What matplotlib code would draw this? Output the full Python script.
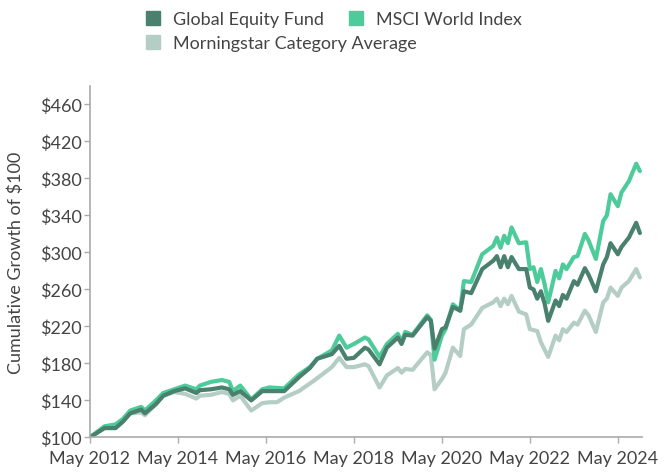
import matplotlib
matplotlib.use("Agg")
import matplotlib.pyplot as plt
from matplotlib.patches import Patch

fund_m = [0, 4, 7, 9, 11, 14, 15, 18, 20, 23, 26, 29, 30, 33, 36, 38, 39, 41, 44, 47, 49, 53,
          57, 60, 62, 66, 68, 70, 72, 75, 76, 79, 81, 84, 85, 86, 88, 92, 93, 94, 96, 97, 99,
          101, 102, 104, 107, 110, 111, 112, 113, 114, 115, 117, 119, 120, 121, 122, 123, 124,
          125, 127, 128, 129, 130, 132, 133, 135, 136, 138, 140, 141, 142, 144, 145, 147, 149, 150]
fund_v = [100, 110, 110, 117, 126, 130, 126, 136, 145, 150, 153, 148, 151, 152, 154, 152, 146,
          150, 140, 150, 150, 150, 165, 175, 185, 190, 199, 185, 186, 197, 195, 179, 197, 208,
          201, 211, 210, 230, 226, 196, 217, 219, 241, 237, 258, 256, 282, 291, 296, 284, 296,
          284, 295, 282, 282, 262, 260, 250, 258, 245, 226, 248, 242, 254, 250, 269, 265, 283,
          276, 258, 287, 295, 310, 298, 306, 316, 332, 321]

msci_m = [0, 4, 7, 9, 11, 14, 15, 18, 20, 23, 26, 29, 30, 33, 36, 38, 39, 41, 44, 47, 49, 53,
          57, 60, 62, 66, 68, 70, 72, 75, 76, 79, 81, 84, 85, 86, 88, 92, 93, 94, 96, 97, 99,
          101, 102, 104, 107, 110, 111, 112, 113, 114, 115, 117, 119, 120, 121, 122, 123, 124,
          125, 127, 128, 129, 130, 132, 133, 135, 136, 138, 140, 141, 142, 144, 145, 147, 149, 150]
msci_v = [100, 112, 114, 120, 129, 133, 129, 140, 148, 152, 156, 152, 156, 160, 162, 160, 150,
          156, 141, 152, 154, 153, 168, 176, 185, 194, 210, 197, 201, 208, 206, 187, 201, 212,
          203, 214, 211, 232, 227, 184, 210, 217, 244, 237, 269, 268, 298, 307, 316, 305, 318,
          310, 327, 310, 311, 282, 284, 268, 282, 266, 246, 280, 272, 287, 282, 295, 296, 320,
          313, 293, 334, 340, 363, 350, 365, 377, 396, 388]

cat_m = [0, 4, 7, 9, 11, 14, 15, 18, 20, 23, 26, 29, 30, 33, 36, 38, 39, 41, 44, 47, 49, 51, 53,
         57, 61, 66, 68, 70, 72, 75, 76, 79, 81, 84, 85, 86, 88, 92, 93, 94, 96, 97, 99,
         101, 102, 104, 107, 110, 111, 112, 113, 114, 115, 117, 119, 120, 122, 123,
         125, 127, 128, 129, 130, 132, 133, 135, 136, 138, 140, 141, 142, 144, 145, 147, 149, 150]
cat_v = [100, 111, 113, 118, 126, 127, 124, 136, 145, 149, 147, 142, 145, 146, 149, 147, 140,
         145, 129, 137, 138, 138, 143, 150, 161, 176, 186, 176, 176, 179, 177, 154, 167, 175,
         170, 174, 173, 192, 189, 152, 163, 170, 197, 188, 217, 222, 240, 246, 250, 242, 250,
         244, 253, 236, 233, 217, 215, 203, 187, 210, 205, 217, 214, 224, 222, 237, 232, 214,
         246, 250, 262, 253, 262, 269, 282, 273]

tick_m = [0, 24, 48, 72, 96, 120, 144]
tick_labels = ["May 2012", "May 2014", "May 2016", "May 2018", "May 2020", "May 2022", "May 2024"]
y_ticks = [100, 140, 180, 220, 260, 300, 340, 380, 420, 460]

c_fund = "#4a806e"
c_msci = "#4dcb9b"
c_cat = "#b5cec5"
txt = "#444444"
fs = 13

plt.rcParams['font.family'] = ['Lato', 'DejaVu Sans']

fig = plt.figure(figsize=(6.66, 4.77), dpi=100)
ax = fig.add_axes([0.135, 0.081, 0.8285, 0.7366])

lw = 3.0
ax.plot(cat_m, cat_v, color=c_cat, lw=lw, solid_joinstyle='round', solid_capstyle='round')
ax.plot(msci_m, msci_v, color=c_msci, lw=lw, solid_joinstyle='round', solid_capstyle='round')
ax.plot(fund_m, fund_v, color=c_fund, lw=lw, solid_joinstyle='round', solid_capstyle='round')

ax.set_xlim(0, 150.5)
ax.set_ylim(100, 480)
ax.set_xticks(tick_m)
ax.set_xticklabels(tick_labels)
ax.set_yticks(y_ticks)
ax.set_yticklabels(["$%d" % v for v in y_ticks])
ax.tick_params(axis='both', color='#aaaaaa', length=4, width=1, labelsize=fs)
ax.tick_params(axis='both', labelcolor=txt)
ax.tick_params(axis='x', pad=5)
ax.tick_params(axis='y', pad=2)
for s in ['top', 'right']:
    ax.spines[s].set_visible(False)
for s in ['left', 'bottom']:
    ax.spines[s].set_color('#aaaaaa')
    ax.spines[s].set_linewidth(1.2)
ax.set_ylabel("Cumulative Growth of $100", fontsize=fs, color=txt, labelpad=11)

leg_kw = dict(frameon=False, fontsize=fs, handlelength=0.8, handleheight=0.85,
              handletextpad=0.72, borderaxespad=0.0, borderpad=0.0, loc='center left')
legend_items = [(c_fund, "Global Equity Fund", 0.219, 0.958),
                (c_msci, "MSCI World Index", 0.524, 0.958),
                (c_cat, "Morningstar Category Average", 0.219, 0.908)]
for col, name, lx, ly in legend_items:
    leg = fig.legend(handles=[Patch(color=col, label=name)], bbox_to_anchor=(lx, ly), **leg_kw)
    for t in leg.get_texts():
        t.set_color(txt)

fig.savefig("out.png", dpi=100)
